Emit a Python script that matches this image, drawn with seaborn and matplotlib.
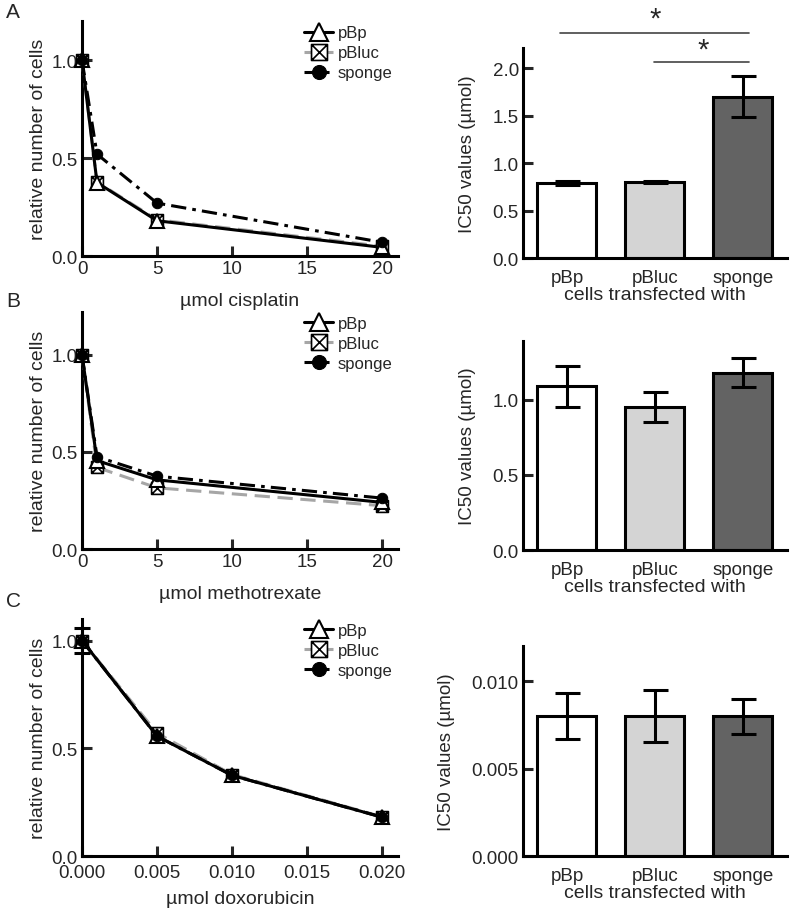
import numpy as np
import pandas as pd
import seaborn as sns
import matplotlib
matplotlib.use("Agg")
import matplotlib.pyplot as plt
from matplotlib.path import Path

# dose-response curves (relative number of cells)
cis_dose = [0, 1, 5, 20]
cis_pBp = [1.0, 0.375, 0.18, 0.044]
cis_pBluc = [1.0, 0.378, 0.185, 0.05]
cis_sponge = [1.0, 0.52, 0.27, 0.07]

mtx_dose = [0, 1, 5, 20]
mtx_pBp = [1.0, 0.455, 0.356, 0.24]
mtx_pBluc = [1.0, 0.42, 0.315, 0.223]
mtx_sponge = [1.0, 0.475, 0.375, 0.262]

dox_dose = [0, 0.005, 0.010, 0.020]
dox_pBp = [1.0, 0.556, 0.374, 0.18]
dox_pBluc = [1.0, 0.57, 0.378, 0.182]
dox_sponge = [1.0, 0.556, 0.374, 0.18]
dox_err0 = 0.06

# IC50 bars
groups = ["pBp", "pBluc", "sponge"]
ic50_cis = [0.79, 0.80, 1.70]
ic50_cis_sd = [0.02, 0.01, 0.215]
ic50_mtx = [1.09, 0.95, 1.18]
ic50_mtx_sd = [0.135, 0.10, 0.095]
ic50_dox = [0.0080, 0.0080, 0.0080]
ic50_dox_sd = [0.0013, 0.0015, 0.0010]

bar_colors = ["#ffffff", "#d4d4d4", "#636363"]

sns.set_style("ticks")
plt.rcParams["font.family"] = ["Liberation Sans", "DejaVu Sans"]
plt.rcParams["font.size"] = 13.5

# square with an X inside
box_x = Path([(-1, -1), (1, -1), (1, 1), (-1, 1), (-1, -1),
              (-1, -1), (1, 1), (-1, 1), (1, -1)],
             [Path.MOVETO, Path.LINETO, Path.LINETO, Path.LINETO, Path.CLOSEPOLY,
              Path.MOVETO, Path.LINETO, Path.MOVETO, Path.LINETO])

LW = 2.2

fig = plt.figure(figsize=(7.9, 9.12), dpi=100)

left_pos = [[0.1038, 0.7182, 0.40, 0.2577],
            [0.1038, 0.3969, 0.40, 0.2599],
            [0.1038, 0.0603, 0.40, 0.2599]]
right_pos = [[0.662, 0.716, 0.334, 0.230],
             [0.662, 0.3958, 0.334, 0.229],
             [0.662, 0.0603, 0.334, 0.230]]


def style_axes(ax):
    sns.despine(ax=ax)
    for s in ["left", "bottom"]:
        ax.spines[s].set_linewidth(LW)
        ax.spines[s].set_color("black")
    ax.tick_params(direction="in", length=7, width=LW, labelsize=13.5, pad=3)


def curves(ax, dose, pbp, pbluc, sponge, xlabel, xmax, ylim, err0=None):
    sns.lineplot(x=dose, y=pbluc, ax=ax, color="#a6a6a6", linestyle=(0, (5, 2.5)), lw=LW,
                 marker=box_x, markersize=8.5, mfc="white", mec="black", mew=1.2,
                 label="pBluc", clip_on=False, zorder=3)
    sns.lineplot(x=dose, y=pbp, ax=ax, color="black", linestyle="-", lw=LW,
                 marker="^", markersize=9.5, mfc="white", mec="black", mew=1.5,
                 label="pBp", clip_on=False, zorder=4)
    sns.lineplot(x=dose, y=sponge, ax=ax, color="black", linestyle=(0, (5, 2, 1.2, 2)), lw=LW,
                 marker="o", markersize=7.5, mfc="black", mec="black",
                 label="sponge", clip_on=False, zorder=5)
    if err0 is not None:
        ax.errorbar([dose[0]], [pbp[0]], yerr=err0, fmt="none", ecolor="black",
                    elinewidth=LW, capsize=6, capthick=LW, clip_on=False, zorder=6)
    ax.set_xlim(0, xmax)
    ax.set_ylim(*ylim)
    ax.set_yticks([0.0, 0.5, 1.0])
    ax.yaxis.set_major_formatter(matplotlib.ticker.FormatStrFormatter("%.1f"))
    ax.set_xlabel(xlabel, fontsize=14, labelpad=11)
    ax.set_ylabel("relative number of cells", fontsize=14, labelpad=3)
    style_axes(ax)
    h, l = ax.get_legend_handles_labels()
    order = [l.index("pBp"), l.index("pBluc"), l.index("sponge")]
    ax.legend([h[i] for i in order], [l[i] for i in order], loc="upper right",
              bbox_to_anchor=(1.03, 1.045), frameon=False, fontsize=12,
              handlelength=1.7, handletextpad=0.3, labelspacing=0.3, markerscale=1.35)


def bars(ax, vals, sd, ymax, yticks, fmt):
    df = pd.DataFrame({"group": groups, "ic50": vals})
    sns.barplot(data=df, x="group", y="ic50", hue="group", palette=bar_colors,
                edgecolor="black", linewidth=LW, width=0.67, errorbar=None,
                legend=False, ax=ax, zorder=2)
    ax.errorbar(range(len(groups)), vals, yerr=sd, fmt="none", ecolor="black",
                elinewidth=LW, capsize=9, capthick=LW, zorder=3, clip_on=False)
    ax.set_xlim(-0.5, 2.5)
    ax.set_ylim(0, ymax)
    ax.set_yticks(yticks)
    ax.yaxis.set_major_formatter(matplotlib.ticker.FormatStrFormatter(fmt))
    ax.set_xlabel("cells transfected with", fontsize=14, labelpad=0)
    ax.set_ylabel("IC50 values (µmol)", fontsize=13.5, labelpad=12)
    style_axes(ax)
    ax.tick_params(axis="x", length=0, pad=8)


axA = fig.add_axes(left_pos[0])
curves(axA, cis_dose, cis_pBp, cis_pBluc, cis_sponge, "µmol cisplatin", 21.05, (0, 1.2))
axA.set_xticks([0, 5, 10, 15, 20])

axB = fig.add_axes(left_pos[1])
curves(axB, mtx_dose, mtx_pBp, mtx_pBluc, mtx_sponge, "µmol methotrexate", 21.05, (0, 1.22))
axB.set_xticks([0, 5, 10, 15, 20])

axC = fig.add_axes(left_pos[2])
curves(axC, dox_dose, dox_pBp, dox_pBluc, dox_sponge, "µmol doxorubicin", 0.02105, (0, 1.1),
       err0=dox_err0)
axC.set_xticks([0, 0.005, 0.010, 0.015, 0.020])
axC.xaxis.set_major_formatter(matplotlib.ticker.FormatStrFormatter("%.3f"))
axC.tick_params(axis="x", pad=6)
axC.set_xlabel("µmol doxorubicin", fontsize=14, labelpad=6)

axA2 = fig.add_axes(right_pos[0])
bars(axA2, ic50_cis, ic50_cis_sd, 2.21, [0, 0.5, 1.0, 1.5, 2.0], "%.1f")
axB2 = fig.add_axes(right_pos[1])
bars(axB2, ic50_mtx, ic50_mtx_sd, 1.39, [0, 0.5, 1.0], "%.1f")
axC2 = fig.add_axes(right_pos[2])
bars(axC2, ic50_dox, ic50_dox_sd, 0.012, [0, 0.005, 0.010], "%.3f")

# significance brackets (cisplatin IC50)
sig_lines = [(-0.08, 2.07, 2.37), (0.99, 2.07, 2.06)]
sig_stars = [(1.0, 2.52), (1.55, 2.2)]
for x0, x1, y in sig_lines:
    axA2.plot([x0, x1], [y, y], color="#444444", lw=1.2, clip_on=False)
for x, y in sig_stars:
    axA2.text(x, y, "*", ha="center", va="center", fontsize=21, clip_on=False)

for letter, y in zip(["A", "B", "C"], [0.986, 0.669, 0.340]):
    fig.text(0.008, y, letter, fontsize=15, ha="left", va="center")

fig.savefig("out.png", dpi=100)
